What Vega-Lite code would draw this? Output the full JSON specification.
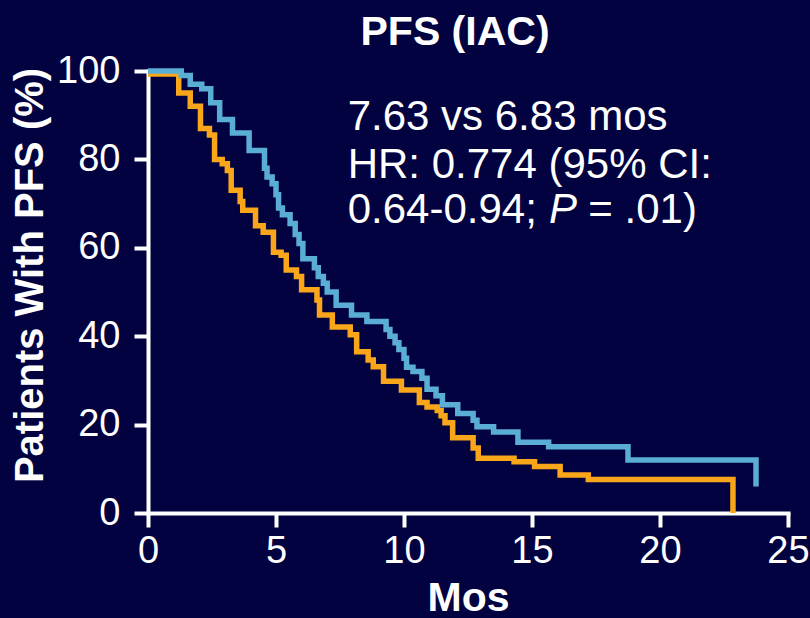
{
  "$schema": "https://vega.github.io/schema/vega-lite/v6.json",
  "width": 640,
  "height": 442,
  "autosize": {"type": "none"},
  "padding": {"left": 148, "top": 71, "right": 22, "bottom": 105},
  "background": "#020240",
  "config": {"view": {"stroke": null}, "font": "Liberation Sans"},
  "title": {"text": "PFS (IAC)", "color": "white", "font": "Liberation Sans", "fontSize": 41, "fontWeight": "bold", "offset": -2, "dx": -13},
  "datasets": {
    "curves": [
      {"arm": "Median 6.83 mos", "month": 0, "pct": 99.3},
      {"arm": "Median 6.83 mos", "month": 1.2, "pct": 95},
      {"arm": "Median 6.83 mos", "month": 1.65, "pct": 92},
      {"arm": "Median 6.83 mos", "month": 2.05, "pct": 87},
      {"arm": "Median 6.83 mos", "month": 2.4, "pct": 85.5},
      {"arm": "Median 6.83 mos", "month": 2.6, "pct": 80},
      {"arm": "Median 6.83 mos", "month": 2.9, "pct": 79},
      {"arm": "Median 6.83 mos", "month": 3.1, "pct": 77.5},
      {"arm": "Median 6.83 mos", "month": 3.25, "pct": 73},
      {"arm": "Median 6.83 mos", "month": 3.6, "pct": 70.5},
      {"arm": "Median 6.83 mos", "month": 3.7, "pct": 68.5},
      {"arm": "Median 6.83 mos", "month": 4.2, "pct": 65},
      {"arm": "Median 6.83 mos", "month": 4.5, "pct": 63.5},
      {"arm": "Median 6.83 mos", "month": 4.9, "pct": 59},
      {"arm": "Median 6.83 mos", "month": 5.2, "pct": 58.3},
      {"arm": "Median 6.83 mos", "month": 5.4, "pct": 55},
      {"arm": "Median 6.83 mos", "month": 5.8, "pct": 53.5},
      {"arm": "Median 6.83 mos", "month": 6.0, "pct": 50.5},
      {"arm": "Median 6.83 mos", "month": 6.6, "pct": 48.2},
      {"arm": "Median 6.83 mos", "month": 6.7, "pct": 44.8},
      {"arm": "Median 6.83 mos", "month": 7.2, "pct": 42.1},
      {"arm": "Median 6.83 mos", "month": 7.9, "pct": 40.3},
      {"arm": "Median 6.83 mos", "month": 8.15, "pct": 36.5},
      {"arm": "Median 6.83 mos", "month": 8.6, "pct": 34.6},
      {"arm": "Median 6.83 mos", "month": 8.8, "pct": 33.1},
      {"arm": "Median 6.83 mos", "month": 9.2, "pct": 29.8},
      {"arm": "Median 6.83 mos", "month": 9.9, "pct": 27.8},
      {"arm": "Median 6.83 mos", "month": 10.6, "pct": 25},
      {"arm": "Median 6.83 mos", "month": 10.9, "pct": 24},
      {"arm": "Median 6.83 mos", "month": 11.3, "pct": 23.2},
      {"arm": "Median 6.83 mos", "month": 11.45, "pct": 22},
      {"arm": "Median 6.83 mos", "month": 11.6, "pct": 20.4},
      {"arm": "Median 6.83 mos", "month": 11.9, "pct": 17},
      {"arm": "Median 6.83 mos", "month": 12.7, "pct": 14.7},
      {"arm": "Median 6.83 mos", "month": 12.9, "pct": 12.4},
      {"arm": "Median 6.83 mos", "month": 14.3, "pct": 11.6},
      {"arm": "Median 6.83 mos", "month": 15.1, "pct": 10.5},
      {"arm": "Median 6.83 mos", "month": 16.1, "pct": 8.6},
      {"arm": "Median 6.83 mos", "month": 17.2, "pct": 7.6},
      {"arm": "Median 6.83 mos", "month": 22.85, "pct": 0},
      {"arm": "Median 7.63 mos", "month": 0, "pct": 100},
      {"arm": "Median 7.63 mos", "month": 1.3, "pct": 99},
      {"arm": "Median 7.63 mos", "month": 1.65, "pct": 97},
      {"arm": "Median 7.63 mos", "month": 2.1, "pct": 96},
      {"arm": "Median 7.63 mos", "month": 2.45, "pct": 92.8},
      {"arm": "Median 7.63 mos", "month": 2.8, "pct": 89},
      {"arm": "Median 7.63 mos", "month": 3.3, "pct": 86},
      {"arm": "Median 7.63 mos", "month": 3.95, "pct": 82},
      {"arm": "Median 7.63 mos", "month": 4.55, "pct": 78},
      {"arm": "Median 7.63 mos", "month": 4.65, "pct": 76},
      {"arm": "Median 7.63 mos", "month": 4.85, "pct": 74.5},
      {"arm": "Median 7.63 mos", "month": 5.0, "pct": 72},
      {"arm": "Median 7.63 mos", "month": 5.1, "pct": 69},
      {"arm": "Median 7.63 mos", "month": 5.25, "pct": 67.5},
      {"arm": "Median 7.63 mos", "month": 5.55, "pct": 65.5},
      {"arm": "Median 7.63 mos", "month": 5.75, "pct": 63},
      {"arm": "Median 7.63 mos", "month": 5.9, "pct": 61},
      {"arm": "Median 7.63 mos", "month": 6.05, "pct": 57.5},
      {"arm": "Median 7.63 mos", "month": 6.5, "pct": 55.5},
      {"arm": "Median 7.63 mos", "month": 6.65, "pct": 53.5},
      {"arm": "Median 7.63 mos", "month": 6.85, "pct": 52},
      {"arm": "Median 7.63 mos", "month": 7.0, "pct": 50},
      {"arm": "Median 7.63 mos", "month": 7.35, "pct": 47},
      {"arm": "Median 7.63 mos", "month": 7.95, "pct": 44.8},
      {"arm": "Median 7.63 mos", "month": 8.55, "pct": 43.3},
      {"arm": "Median 7.63 mos", "month": 9.3, "pct": 41.5},
      {"arm": "Median 7.63 mos", "month": 9.45, "pct": 40},
      {"arm": "Median 7.63 mos", "month": 9.65, "pct": 38.5},
      {"arm": "Median 7.63 mos", "month": 9.8, "pct": 37},
      {"arm": "Median 7.63 mos", "month": 10.0, "pct": 35},
      {"arm": "Median 7.63 mos", "month": 10.1, "pct": 33},
      {"arm": "Median 7.63 mos", "month": 10.35, "pct": 32},
      {"arm": "Median 7.63 mos", "month": 10.7, "pct": 30.5},
      {"arm": "Median 7.63 mos", "month": 10.9, "pct": 28},
      {"arm": "Median 7.63 mos", "month": 11.25, "pct": 26.5},
      {"arm": "Median 7.63 mos", "month": 11.5, "pct": 24.5},
      {"arm": "Median 7.63 mos", "month": 12.1, "pct": 22.5},
      {"arm": "Median 7.63 mos", "month": 12.7, "pct": 21},
      {"arm": "Median 7.63 mos", "month": 12.85, "pct": 19.5},
      {"arm": "Median 7.63 mos", "month": 13.5, "pct": 18.3},
      {"arm": "Median 7.63 mos", "month": 14.45, "pct": 16},
      {"arm": "Median 7.63 mos", "month": 15.65, "pct": 15},
      {"arm": "Median 7.63 mos", "month": 18.75, "pct": 12},
      {"arm": "Median 7.63 mos", "month": 23.75, "pct": 6}
    ],
    "notes": [
      {"month": 7.8, "pct": 86.6, "label": "7.63 vs 6.83 mos"},
      {"month": 7.8, "pct": 75.8, "label": "HR: 0.774 (95% CI:"},
      {"month": 7.8, "pct": 65.6, "label": "0.64-0.94;"},
      {"month": 17.2, "pct": 65.6, "label": "= .01)"}
    ],
    "italicNotes": [
      {"month": 15.66, "pct": 65.6, "label": "P"}
    ]
  },
  "layer": [
    {
      "data": {"name": "curves"},
      "mark": {"type": "line", "interpolate": "step-after", "strokeWidth": 5.5, "strokeJoin": "miter", "strokeCap": "butt"},
      "encoding": {
        "x": {
          "field": "month", "type": "quantitative",
          "scale": {"domain": [0, 25], "nice": false, "zero": false},
          "axis": {
            "title": "Mos", "values": [0, 5, 10, 15, 20, 25], "grid": false,
            "domainColor": "white", "domainWidth": 4, "domainCap": "square",
            "tickColor": "white", "tickWidth": 4, "tickSize": 14,
            "labelColor": "white", "labelFontSize": 38, "labelFont": "Liberation Sans", "labelPadding": 5, "labelFlush": false,
            "titleColor": "white", "titleFontSize": 41, "titleFont": "Liberation Sans", "titleFontWeight": "bold", "titlePadding": 8
          }
        },
        "y": {
          "field": "pct", "type": "quantitative",
          "scale": {"domain": [0, 100], "nice": false},
          "axis": {
            "title": "Patients With PFS (%)", "values": [0, 20, 40, 60, 80, 100], "grid": false,
            "domainColor": "white", "domainWidth": 4, "domainCap": "square",
            "tickColor": "white", "tickWidth": 4, "tickSize": 14,
            "labelColor": "white", "labelFontSize": 38, "labelFont": "Liberation Sans", "labelPadding": 14, "labelFlush": false,
            "titleColor": "white", "titleFontSize": 40, "titleFont": "Liberation Sans", "titleFontWeight": "bold", "titlePadding": 6, "titleY": 204
          }
        },
        "color": {
          "field": "arm", "type": "nominal",
          "scale": {"domain": ["Median 6.83 mos", "Median 7.63 mos"], "range": ["#f9a61a", "#5aadd5"]},
          "legend": null
        }
      }
    },
    {
      "data": {"name": "notes"},
      "mark": {"type": "text", "align": "left", "baseline": "alphabetic", "font": "Liberation Sans", "fontSize": 42, "color": "white"},
      "encoding": {
        "x": {"field": "month", "type": "quantitative"},
        "y": {"field": "pct", "type": "quantitative"},
        "text": {"field": "label", "type": "nominal"}
      }
    },
    {
      "data": {"name": "italicNotes"},
      "mark": {"type": "text", "align": "left", "baseline": "alphabetic", "font": "Liberation Sans", "fontSize": 42, "fontStyle": "italic", "color": "white"},
      "encoding": {
        "x": {"field": "month", "type": "quantitative"},
        "y": {"field": "pct", "type": "quantitative"},
        "text": {"field": "label", "type": "nominal"}
      }
    }
  ]
}
